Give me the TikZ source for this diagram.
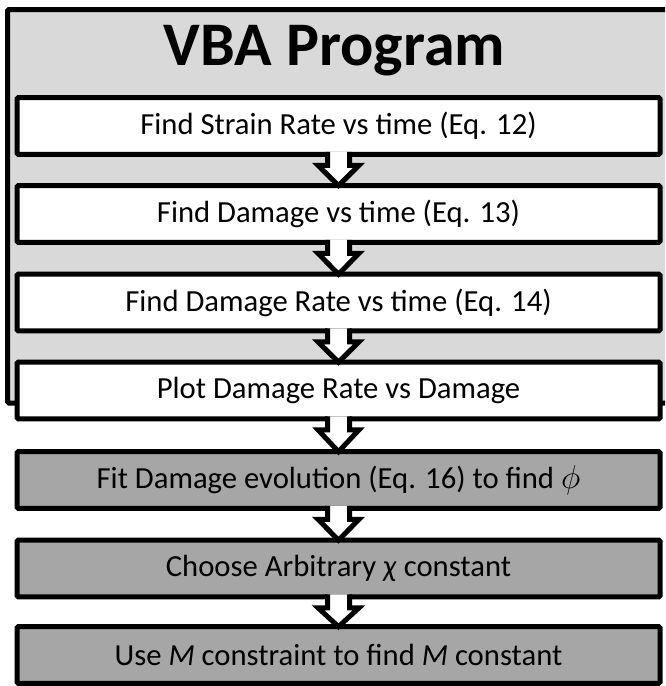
\documentclass[tikz,border=0pt]{standalone}
\usepackage{fontspec}
\setmainfont{Carlito}
\usetikzlibrary{calc}

\definecolor{panelgray}{HTML}{D9D9D9}
\definecolor{stepgray}{HTML}{A6A6A6}

\begin{document}
\begin{tikzpicture}[x=0.75pt,y=-0.75pt,
  flow box/.style={rectangle,draw,line width=3.75pt,fill=white,rounded corners=1pt,
    outer sep=0pt,inner sep=0pt,minimum width=482.25pt,minimum height=42.5pt,
    font=\fontsize{23}{27}\selectfont},
  grey box/.style={flow box,fill=stepgray},
  block arrow/.style={line width=3.75pt,fill=white,line join=miter,
    to path={($(\tikztostart.south)+(-11,-2.5)$) -- ($(\tikztostart.south)+(-11,11)$)
      -- ($(\tikztostart.south)+(-20.5,11)$) -- (\tikztotarget.north)
      -- ($(\tikztostart.south)+(20.5,11)$) -- ($(\tikztostart.south)+(11,11)$)
      -- ($(\tikztostart.south)+(11,-2.5)$)}}]

  \useasboundingbox (0,0) rectangle (665,686);
  \clip (0,0) rectangle (665,686);

  % program frame, runs past the right edge
  \draw[line width=3.75pt,fill=panelgray,rounded corners=1pt] (7.5,9.5) rectangle (700,403);
  \node[font=\fontsize{46.5}{52}\selectfont\bfseries,anchor=base] (vba) at (334.5,65) {VBA Program};

  \node[flow box] (s1) at (338.5,126) {Find Strain Rate vs time (Eq. 12)};
  \node[flow box] (s2) at (338.5,214) {Find Damage vs time (Eq. 13)};
  \node[flow box] (s3) at (338.5,302.5) {Find Damage Rate vs time (Eq. 14)};
  \node[flow box] (s4) at (338.5,390.5) {Plot Damage Rate vs Damage};

  \node[grey box] (s5) at (338.5,480) {Fit Damage evolution (Eq. 16) to find $\phi$};
  \node[grey box] (s6) at (338.5,568.5) {Choose Arbitrary \textit{χ} constant};
  \node[grey box] (s7) at (338.5,655) {Use \textit{M} constraint to find \textit{M} constant};

  \path[]
   (s1) edge [block arrow] (s2)
   (s2) edge [block arrow] (s3)
   (s3) edge [block arrow] (s4)
   (s4) edge [block arrow] (s5)
   (s5) edge [block arrow] (s6)
   (s6) edge [block arrow] (s7);

\end{tikzpicture}
\end{document}
